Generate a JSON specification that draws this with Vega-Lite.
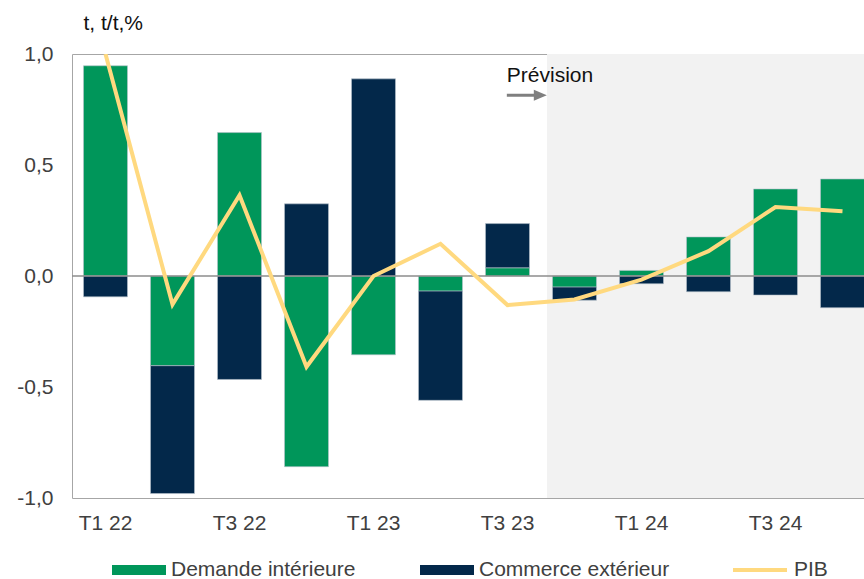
{
  "$schema": "https://vega.github.io/schema/vega-lite/v6.json",
  "width": 792,
  "height": 444,
  "autosize": {"type": "none"},
  "padding": {"left": 72, "top": 54, "right": 0, "bottom": 81},
  "background": "white",
  "config": {
    "view": {"stroke": null},
    "font": "Liberation Sans"
  },
  "datasets": {
    "barres": [
      {"trimestre": "T1 22", "serie": "Demande intérieure", "valeur": 0.947},
      {"trimestre": "T2 22", "serie": "Demande intérieure", "valeur": -0.404},
      {"trimestre": "T3 22", "serie": "Demande intérieure", "valeur": 0.646},
      {"trimestre": "T4 22", "serie": "Demande intérieure", "valeur": -0.859},
      {"trimestre": "T1 23", "serie": "Demande intérieure", "valeur": -0.355},
      {"trimestre": "T2 23", "serie": "Demande intérieure", "valeur": -0.068},
      {"trimestre": "T3 23", "serie": "Demande intérieure", "valeur": 0.037},
      {"trimestre": "T4 23", "serie": "Demande intérieure", "valeur": -0.05},
      {"trimestre": "T1 24", "serie": "Demande intérieure", "valeur": 0.025},
      {"trimestre": "T2 24", "serie": "Demande intérieure", "valeur": 0.176},
      {"trimestre": "T3 24", "serie": "Demande intérieure", "valeur": 0.392},
      {"trimestre": "T4 24", "serie": "Demande intérieure", "valeur": 0.437},
      {"trimestre": "T1 22", "serie": "Commerce extérieur", "valeur": -0.094},
      {"trimestre": "T2 22", "serie": "Commerce extérieur", "valeur": -0.576},
      {"trimestre": "T3 22", "serie": "Commerce extérieur", "valeur": -0.466},
      {"trimestre": "T4 22", "serie": "Commerce extérieur", "valeur": 0.325},
      {"trimestre": "T1 23", "serie": "Commerce extérieur", "valeur": 0.888},
      {"trimestre": "T2 23", "serie": "Commerce extérieur", "valeur": -0.492},
      {"trimestre": "T3 23", "serie": "Commerce extérieur", "valeur": 0.199},
      {"trimestre": "T4 23", "serie": "Commerce extérieur", "valeur": -0.059},
      {"trimestre": "T1 24", "serie": "Commerce extérieur", "valeur": -0.035},
      {"trimestre": "T2 24", "serie": "Commerce extérieur", "valeur": -0.071},
      {"trimestre": "T3 24", "serie": "Commerce extérieur", "valeur": -0.086},
      {"trimestre": "T4 24", "serie": "Commerce extérieur", "valeur": -0.143}
    ],
    "pib": [
      {"trimestre": "T1 22", "serie": "PIB", "valeur": 1.0},
      {"trimestre": "T2 22", "serie": "PIB", "valeur": -0.128},
      {"trimestre": "T3 22", "serie": "PIB", "valeur": 0.364},
      {"trimestre": "T4 22", "serie": "PIB", "valeur": -0.409},
      {"trimestre": "T1 23", "serie": "PIB", "valeur": 0.0},
      {"trimestre": "T2 23", "serie": "PIB", "valeur": 0.145},
      {"trimestre": "T3 23", "serie": "PIB", "valeur": -0.131},
      {"trimestre": "T4 23", "serie": "PIB", "valeur": -0.106},
      {"trimestre": "T1 24", "serie": "PIB", "valeur": -0.016},
      {"trimestre": "T2 24", "serie": "PIB", "valeur": 0.112},
      {"trimestre": "T3 24", "serie": "PIB", "valeur": 0.311},
      {"trimestre": "T4 24", "serie": "PIB", "valeur": 0.292}
    ],
    "prevision": [
      {"debut": 7.09, "fin": 12, "haut": 1, "bas": -1}
    ],
    "annotation": [
      {"x": 6.49, "y": 0.874, "texte": "Prévision"}
    ],
    "fleche": [
      {"x": 6.49, "x2": 6.99, "y": 0.814}
    ]
  },
  "layer": [
    {
      "data": {"name": "prevision"},
      "mark": {"type": "rect", "color": "#f2f2f2", "clip": true},
      "encoding": {
        "x": {
          "field": "debut", "type": "quantitative",
          "scale": {"domain": [0, 12], "range": [0, 804], "nice": false, "zero": false},
          "axis": {"orient": "top", "labels": false, "ticks": false, "grid": false, "domain": true, "domainColor": "#a6a6a6", "domainWidth": 1, "title": null}
        },
        "x2": {"field": "fin"},
        "y": {"field": "haut", "type": "quantitative"},
        "y2": {"field": "bas"}
      }
    },
    {
      "layer": [
        {
          "data": {"name": "barres"},
          "mark": {"type": "bar", "stroke": "#b9c3cd", "strokeWidth": 0.6, "clip": true},
          "encoding": {
            "x": {
              "field": "trimestre", "type": "ordinal",
              "sort": ["T1 22","T2 22","T3 22","T4 22","T1 23","T2 23","T3 23","T4 23","T1 24","T2 24","T3 24","T4 24"],
              "scale": {"paddingInner": 0.343, "paddingOuter": 0.1715, "range": [0, 804]},
              "axis": {
                "title": null, "ticks": false, "domain": true, "domainColor": "#a6a6a6", "labelAngle": 0,
                "labelFontSize": 21, "labelColor": "#404040", "labelPadding": 14, "labelOverlap": false,
                "labelExpr": "substring(datum.label,0,2)=='T2' || substring(datum.label,0,2)=='T4' ? '' : datum.label"
              }
            },
            "y": {
              "field": "valeur", "type": "quantitative", "stack": "zero",
              "scale": {"domain": [-1, 1], "nice": false},
              "axis": {
                "values": [-1, -0.5, 0, 0.5, 1],
                "labelExpr": "replace(replace(format(datum.value, '.1f'), '.', ','), '−', '-')",
                "grid": false, "ticks": false, "domain": true, "domainColor": "#a6a6a6",
                "labelFontSize": 21, "labelColor": "#404040", "labelPadding": 19,
                "title": "t, t/t,%", "titleAngle": 0, "titleAlign": "left", "titleBaseline": "alphabetic",
                "titleX": 11, "titleY": -25, "titleFontSize": 21, "titleFontWeight": "normal", "titleColor": "#111111"
              }
            },
            "fill": {
              "field": "serie", "type": "nominal",
              "scale": {"domain": ["Demande intérieure", "Commerce extérieur"], "range": ["#00965a", "#03284a"]},
              "legend": {
                "orient": "none", "legendX": 40, "legendY": 489, "direction": "horizontal", "title": null,
                "symbolType": "M-1,-0.185H1V0.185H-1Z", "symbolSize": 2916, "symbolStrokeWidth": 0,
                "labelFontSize": 21, "labelColor": "#404040", "labelOffset": 5, "columnPadding": 64, "labelLimit": 400
              }
            },
            "order": {"field": "serie", "sort": "descending"}
          }
        },
        {
          "data": {"values": [{"niveau": 0}]},
          "mark": {"type": "rule", "color": "#8c8c8c", "strokeWidth": 1.5},
          "encoding": {"y": {"field": "niveau", "type": "quantitative"}}
        },
        {
          "data": {"name": "pib"},
          "mark": {"type": "line", "strokeWidth": 4, "strokeJoin": "miter", "clip": true},
          "encoding": {
            "x": {
              "field": "trimestre", "type": "ordinal",
              "sort": ["T1 22","T2 22","T3 22","T4 22","T1 23","T2 23","T3 23","T4 23","T1 24","T2 24","T3 24","T4 24"]
            },
            "y": {"field": "valeur", "type": "quantitative"},
            "stroke": {
              "field": "serie", "type": "nominal",
              "scale": {"domain": ["PIB"], "range": ["#ffd97f"]},
              "legend": {
                "orient": "none", "legendX": 659, "legendY": 487, "title": null,
                "symbolType": "stroke", "symbolSize": 2916, "symbolStrokeWidth": 4,
                "labelFontSize": 21, "labelColor": "#404040", "labelOffset": 5
              }
            }
          }
        }
      ]
    },
    {
      "layer": [
        {
          "data": {"name": "annotation"},
          "mark": {"type": "text", "align": "left", "baseline": "alphabetic", "fontSize": 21, "color": "#111111"},
          "encoding": {
            "x": {"field": "x", "type": "quantitative", "scale": {"domain": [0, 12], "range": [0, 804], "nice": false, "zero": false}, "axis": null},
            "y": {"field": "y", "type": "quantitative"},
            "text": {"field": "texte"}
          }
        },
        {
          "data": {"name": "fleche"},
          "mark": {"type": "rule", "color": "#7f7f7f", "strokeWidth": 3},
          "encoding": {
            "x": {"field": "x", "type": "quantitative"},
            "x2": {"field": "x2"},
            "y": {"field": "y", "type": "quantitative"}
          }
        },
        {
          "data": {"name": "fleche"},
          "mark": {"type": "point", "shape": "M-1,-0.85L1,0L-1,0.85Z", "size": 169, "filled": true, "color": "#7f7f7f", "opacity": 1},
          "encoding": {
            "x": {"field": "x2", "type": "quantitative"},
            "y": {"field": "y", "type": "quantitative"}
          }
        }
      ]
    }
  ],
  "resolve": {"scale": {"x": "independent"}}
}
